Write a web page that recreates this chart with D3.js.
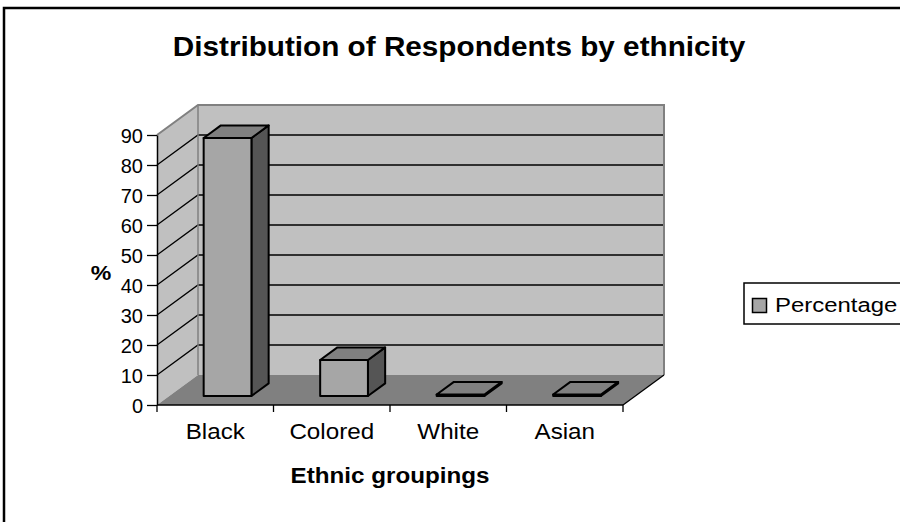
<!DOCTYPE html>
<html>
<head>
<meta charset="utf-8">
<script src="https://cdn.jsdelivr.net/npm/d3@7"></script>
<style>
  html, body { margin: 0; padding: 0; background: #fff; }
  svg { display: block; }
  text { font-family: "Liberation Sans", Arial, sans-serif; fill: #000; }
</style>
</head>
<body>
<svg id="chart" width="900" height="522"></svg>
<script>
// ---- data ----
const categories = ["Black", "Colored", "White", "Asian"];
const percentages = [86, 12, 0.5, 0.5];
const yTickValues = [0, 10, 20, 30, 40, 50, 60, 70, 80, 90];
const titleText = "Distribution of Respondents by ethnicity";
const xTitle = "Ethnic groupings";
const yTitle = "%";
const seriesName = "Percentage";

// ---- layout ----
const svg = d3.select("#chart");
const floorY = 405;                  // front baseline
const depthDX = 41, depthDY = -30;   // full depth offset

const x = d3.scaleBand().domain(categories).range([157, 623]).padding(0);
const yFront = d3.scaleLinear().domain([0, 90]).range([floorY, 135]);
const h = v => floorY - yFront(v);   // pixel height

// projection: front-plane x, height px, depth fraction
const P = (px, hh, d) => [px + depthDX * d, floorY - hh + depthDY * d];
const poly = pts => pts.map(p => p.join(",")).join(" ");

// outer frame
svg.append("rect").attr("x", 4).attr("y", 8).attr("width", 1000).attr("height", 1000)
  .attr("fill", "#fff").attr("stroke", "#000").attr("stroke-width", 2.5);

const x0 = x.range()[0], x1 = x.range()[1];
const topH = h(90);

// left wall
svg.append("polygon")
  .attr("points", poly([P(x0, 0, 0), P(x0, topH, 0), P(x0, topH, 1), P(x0, 0, 1)]))
  .attr("fill", "#c0c0c0");
// back wall
svg.append("polygon")
  .attr("points", poly([P(x0, 0, 1), P(x0, topH, 1), P(x1, topH, 1), P(x1, 0, 1)]))
  .attr("fill", "#c0c0c0");
// floor
svg.append("polygon")
  .attr("points", poly([P(x0, 0, 0), P(x1, 0, 0), P(x1, 0, 1), P(x0, 0, 1)]))
  .attr("fill", "#808080");

// gridlines (back + left wall)
const gridVals = yTickValues.filter(v => v > 0 && v < 90);
const grid = svg.append("g");
gridVals.forEach(v => {
  const a = P(x0, h(v), 0), b = P(x0, h(v), 1), c = P(x1, h(v), 1);
  grid.append("polyline").attr("points", poly([a, b, c]))
    .attr("fill", "none").attr("stroke", "#000").attr("stroke-width", 1.3);
});
// wall edges (gray)
svg.append("polyline")
  .attr("points", poly([P(x0, topH, 0), P(x0, topH, 1), P(x1, topH, 1), P(x1, 0, 1)]))
  .attr("fill", "none").attr("stroke", "#808080").attr("stroke-width", 2);
svg.append("line")
  .attr("x1", P(x0, 0, 1)[0]).attr("y1", P(x0, 0, 1)[1])
  .attr("x2", P(x0, topH, 1)[0]).attr("y2", P(x0, topH, 1)[1])
  .attr("stroke", "#808080").attr("stroke-width", 1.5);
// floor right edge
svg.append("line")
  .attr("x1", P(x1, 0, 0)[0]).attr("y1", P(x1, 0, 0)[1])
  .attr("x2", P(x1, 0, 1)[0]).attr("y2", P(x1, 0, 1)[1])
  .attr("stroke", "#000").attr("stroke-width", 1.3);

// bars
const dFront = 0.3, dBack = 0.72;
const barW = x.bandwidth() * 0.41;
const bars = svg.append("g");
categories.forEach((c, i) => {
  const v = percentages[i];
  const cx = x(c) + x.bandwidth() / 2;
  const l = cx - barW / 2, r = cx + barW / 2;
  const hh = h(v);
  const front = [P(l, 0, dFront), P(r, 0, dFront), P(r, hh, dFront), P(l, hh, dFront)];
  const side = [P(r, 0, dFront), P(r, 0, dBack), P(r, hh, dBack), P(r, hh, dFront)];
  const top = [P(l, hh, dFront), P(r, hh, dFront), P(r, hh, dBack), P(l, hh, dBack)];
  [[side, "#555555"], [front, "#a6a6a6"], [top, "#808080"]].forEach(([pts, col]) => {
    bars.append("polygon").attr("points", poly(pts)).attr("fill", col)
      .attr("stroke", "#000").attr("stroke-width", 2).attr("stroke-linejoin", "round");
  });
});

// y axis
const yAxis = svg.append("g").attr("transform", `translate(${x0},0)`)
  .call(d3.axisLeft(yFront).tickValues(yTickValues).tickSizeInner(10).tickSizeOuter(0).tickPadding(4));
yAxis.select(".domain").attr("stroke", "#000").attr("stroke-width", 1.5);
yAxis.selectAll(".tick line").attr("stroke", "#000").attr("stroke-width", 1.3);
yAxis.selectAll(".tick text").attr("font-size", 20).attr("font-family", "Liberation Sans, Arial, sans-serif")
  .attr("fill", "#000").attr("dy", "0.35em");

// x axis line + boundary ticks
svg.append("line").attr("x1", x0).attr("x2", x1).attr("y1", floorY).attr("y2", floorY)
  .attr("stroke", "#000").attr("stroke-width", 1.5);
const bounds = categories.map(c => x(c)).concat([x1]);
svg.append("g").selectAll("line").data(bounds).join("line")
  .attr("x1", d => d).attr("x2", d => d).attr("y1", floorY).attr("y2", floorY + 7)
  .attr("stroke", "#000").attr("stroke-width", 1.3);
svg.append("g").selectAll("text").data(categories).join("text")
  .attr("transform", d => `translate(${x(d) + x.bandwidth() / 2},439) scale(1.1,1)`)
  .attr("text-anchor", "middle").attr("font-size", 22).text(d => d);

// titles
svg.append("text").attr("transform", `translate(459,56) scale(1.1,1)`)
  .attr("text-anchor", "middle").attr("font-size", 27).attr("font-weight", "bold").text(titleText);
svg.append("text").attr("transform", `translate(390,483) scale(1.1,1)`)
  .attr("text-anchor", "middle").attr("font-size", 22).attr("font-weight", "bold").text(xTitle);
svg.append("text").attr("transform", `translate(101,280) scale(1.1,1)`)
  .attr("text-anchor", "middle").attr("font-size", 21).attr("font-weight", "bold").text(yTitle);

// legend
const lg = svg.append("g");
lg.append("rect").attr("x", 744).attr("y", 283).attr("width", 300).attr("height", 41)
  .attr("fill", "#fff").attr("stroke", "#000").attr("stroke-width", 1.5);
lg.append("rect").attr("x", 752.5).attr("y", 298.5).attr("width", 14).attr("height", 14)
  .attr("fill", "#a6a6a6").attr("stroke", "#000").attr("stroke-width", 1.5);
lg.append("text").attr("transform", `translate(775,312) scale(1.14,1)`)
  .attr("font-size", 21).text(seriesName);
</script>
</body>
</html>
